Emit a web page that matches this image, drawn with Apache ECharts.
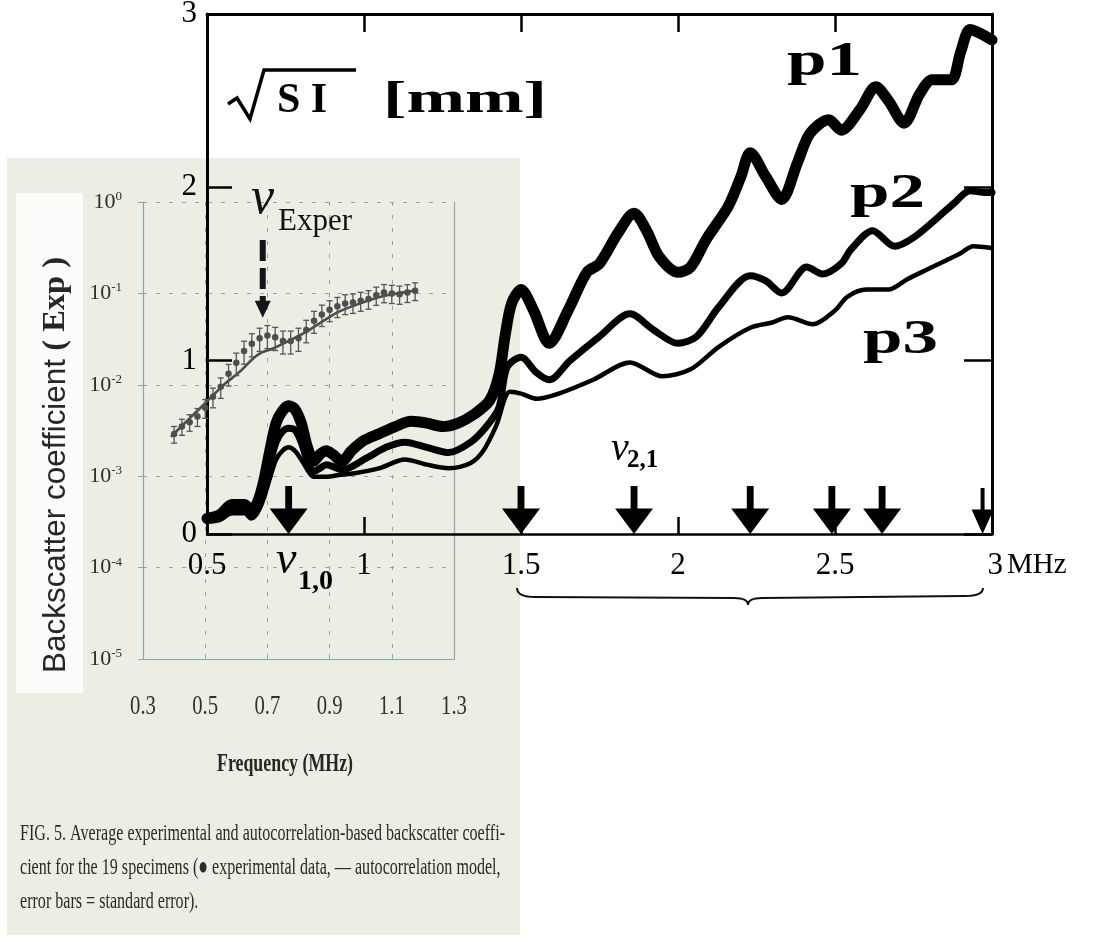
<!DOCTYPE html>
<html><head><meta charset="utf-8">
<script src="https://cdn.jsdelivr.net/npm/echarts@6.0.0/dist/echarts.min.js"></script>
<style>html,body{margin:0;padding:0;background:#fff}#c{width:1096px;height:940px}</style>
</head><body><div id="c"></div>
<script>
// ---------- background (scanned) figure: backscatter coefficient, log scale ----------
const logFreqTicks = [0.3, 0.5, 0.7, 0.9, 1.1, 1.3];
const expFreq  = [0.400,0.425,0.450,0.475,0.500,0.525,0.550,0.575,0.600,0.625,0.650,0.675,0.700,0.725,0.750,0.775,
                  0.800,0.825,0.850,0.875,0.900,0.925,0.950,0.975,1.000,1.025,1.050,1.075,1.100,1.125,1.150,1.175];
const expValue = [0.0029,0.0035,0.0039,0.0045,0.0056,0.0074,0.0095,0.0132,0.0174,0.0234,0.0282,0.0324,0.0347,0.0331,0.0302,0.0302,
                  0.0324,0.0398,0.0501,0.0589,0.0661,0.0724,0.0776,0.0794,0.0832,0.0871,0.0955,0.102,0.100,0.098,0.102,0.107];
const expErr   = [0.0006,0.0007,0.0008,0.0010,0.0013,0.0018,0.0024,0.0035,0.0048,0.0066,0.0080,0.0092,0.0098,0.0094,0.0085,0.0085,
                  0.0092,0.0110,0.0135,0.0155,0.0170,0.0180,0.0190,0.0190,0.0195,0.0200,0.0215,0.0230,0.0225,0.0220,0.0225,0.0235];
const modelFreq  = [0.39,0.45,0.51,0.56,0.61,0.67,0.72,0.78,0.83,0.88,0.93,0.99,1.04,1.10,1.17];
const modelValue = [0.0027,0.0043,0.0068,0.0100,0.0138,0.0214,0.0251,0.0316,0.0389,0.0501,0.0631,0.0759,0.0871,0.0977,0.107];
const expArrow = [0.685, 0.385, 0.054]; // frequency, dashed arrow start value, arrow tip value

// ---------- overlay figure: sqrt(SI) [mm] vs frequency ----------
const p1Freq  = [0.50,0.54,0.58,0.62,0.64,0.66,0.68,0.70,0.72,0.74,0.76,0.78,0.80,0.82,0.84,0.86,0.88,0.90,0.93,0.96,
                 1.00,1.05,1.10,1.15,1.20,1.25,1.30,1.35,1.40,1.43,1.45,1.47,1.50,1.54,1.59,1.65,1.71,1.75,1.81,1.86,
                 1.90,1.94,2.00,2.04,2.09,2.16,2.20,2.23,2.28,2.33,2.38,2.42,2.48,2.52,2.58,2.63,2.67,2.72,2.77,2.81,
                 2.87,2.90,2.93,2.96,3.00];
const p1Value = [0.09,0.11,0.17,0.17,0.13,0.18,0.30,0.48,0.64,0.71,0.74,0.72,0.64,0.50,0.42,0.46,0.48,0.46,0.42,0.48,
                 0.54,0.58,0.62,0.65,0.64,0.62,0.64,0.69,0.77,0.92,1.15,1.33,1.41,1.29,1.10,1.29,1.51,1.56,1.74,1.85,
                 1.75,1.60,1.51,1.54,1.70,1.89,2.06,2.20,2.06,1.93,2.14,2.31,2.39,2.33,2.45,2.58,2.50,2.37,2.54,2.62,
                 2.62,2.78,2.91,2.89,2.85];
const p2Freq  = [0.50,0.54,0.58,0.62,0.64,0.66,0.68,0.70,0.72,0.74,0.76,0.78,0.80,0.82,0.84,0.86,0.88,0.90,0.93,
                 1.01,1.07,1.13,1.20,1.27,1.34,1.39,1.43,1.455,1.50,1.55,1.59,1.656,1.75,1.847,1.92,2.00,2.06,2.13,2.23,
                 2.28,2.33,2.41,2.46,2.52,2.55,2.62,2.69,2.75,2.83,2.88,2.93,2.98,3.00];
const p2Value = [0.08,0.10,0.14,0.14,0.11,0.15,0.26,0.40,0.53,0.59,0.61,0.60,0.53,0.42,0.36,0.38,0.40,0.39,0.37,
                 0.44,0.50,0.53,0.50,0.47,0.53,0.62,0.73,0.96,1.02,0.93,0.89,1.00,1.14,1.27,1.18,1.10,1.14,1.31,1.49,
                 1.46,1.39,1.54,1.50,1.56,1.64,1.75,1.66,1.71,1.83,1.91,1.98,1.97,1.97];
const p3Freq  = [0.50,0.54,0.58,0.62,0.64,0.66,0.68,0.70,0.72,0.74,0.76,0.78,0.80,0.82,0.84,
                 0.88,0.92,0.97,1.05,1.13,1.20,1.27,1.34,1.38,1.42,1.465,1.50,1.55,1.62,1.73,1.847,1.95,2.04,2.13,2.23,
                 2.30,2.35,2.43,2.50,2.54,2.60,2.67,2.73,2.81,2.90,2.94,3.00];
const p3Value = [0.07,0.08,0.12,0.12,0.09,0.12,0.20,0.32,0.43,0.48,0.50,0.48,0.43,0.37,0.33,
                 0.33,0.34,0.35,0.38,0.43,0.40,0.38,0.41,0.48,0.62,0.82,0.81,0.78,0.81,0.89,0.99,0.91,0.95,1.08,1.19,
                 1.22,1.25,1.21,1.29,1.37,1.41,1.41,1.47,1.54,1.62,1.66,1.65];
const arrowFreq = [0.76, 1.50, 1.86, 2.23, 2.49, 2.65, 2.97];

const captionLines = [
  'FIG. 5. Average experimental and autocorrelation-based backscatter coeffi-',
  'cient for the 19 specimens (\u25CF experimental data, \u2014 autocorrelation model,',
  'error bars = standard error).'
];

// ---------------------------------------------------------------------------------
const SERIF = '"Liberation Serif","Times New Roman",serif';
const SANS = '"Liberation Sans",Arial,sans-serif';
const GL = '#89a6b6';
const pairs = (xs, ys) => xs.map((x, i) => [x, ys[i]]);

const chart = echarts.init(document.getElementById('c'));

const ARROW = 'path://M41,0 L59,0 L59,47 L100,47 L50,100 L0,47 L41,47 Z';

const option = {
  animation: false,
  backgroundColor: '#ffffff',
  grid: [
    {left: 143, top: 202, width: 311, height: 457, outerBoundsMode: 'none', containLabel: false},
    {left: 207, top: 14, width: 785, height: 520, outerBoundsMode: 'none', containLabel: false}
  ],
  xAxis: [
    {gridIndex: 0, type: 'value', min: 0.3, max: 1.3,
     axisLine: {show: true, lineStyle: {color: GL, width: 1.2}},
     axisTick: {show: true, customValues: logFreqTicks, length: 5, inside: true, lineStyle: {color: GL}},
     axisLabel: {show: false, customValues: logFreqTicks},
     splitLine: {show: true, lineStyle: {color: GL, width: 1, type: [4, 9]}}},
    {gridIndex: 1, type: 'value', min: 0.5, max: 3, interval: 0.5, position: 'bottom',
     axisLine: {show: true, onZero: false, lineStyle: {color: '#000', width: 2.5}},
     axisTick: {show: true, inside: true, length: 17, lineStyle: {color: '#000', width: 2.5}},
     axisLabel: {show: true, margin: 16, fontFamily: SERIF, fontSize: 31, color: '#000',
       formatter: v => v === 3 ? '{p| }{v|3}{u|MHz}' : String(v),
       rich: {p: {width: 70, fontSize: 31}, v: {fontFamily: SERIF, fontSize: 31, color: '#000'},
              u: {fontFamily: SERIF, fontSize: 29, color: '#000', padding: [0, 0, 0, 4]}}},
     splitLine: {show: false}},
    {gridIndex: 1, type: 'value', min: 0.5, max: 3, interval: 0.5, position: 'top',
     axisLine: {show: true, onZero: false, lineStyle: {color: '#000', width: 3}},
     axisTick: {show: true, inside: true, length: 18, lineStyle: {color: '#000', width: 2.5}},
     axisLabel: {show: false}, splitLine: {show: false}}
  ],
  yAxis: [
    {gridIndex: 0, type: 'log', logBase: 10, min: 0.00001, max: 1, splitNumber: 5,
     axisLine: {show: true, lineStyle: {color: GL, width: 1.2}},
     axisTick: {show: true, length: 5, lineStyle: {color: GL}},
     axisLabel: {show: true, margin: 21,
       formatter: v => '{b|10}{s|' + Math.round(Math.log(v) / Math.LN10) + '}',
       rich: {b: {fontFamily: SERIF, fontSize: 22, color: '#2e2e2e', lineHeight: 24},
              s: {fontFamily: SERIF, fontSize: 13, color: '#2e2e2e', verticalAlign: 'top', lineHeight: 13}}},
     splitLine: {show: true, lineStyle: {color: GL, width: 1, type: [4, 9]}}},
    {gridIndex: 1, type: 'value', min: 0, max: 3, interval: 1, position: 'left',
     axisLine: {show: true, onZero: false, lineStyle: {color: '#000', width: 3}},
     axisTick: {show: true, inside: true, length: 25, lineStyle: {color: '#000', width: 2.5}},
     axisLabel: {show: true, margin: 10, fontFamily: SERIF, fontSize: 31, color: '#000', padding: [12, 0, 0, 0]},
     splitLine: {show: false}},
    {gridIndex: 1, type: 'value', min: 0, max: 3, interval: 1, position: 'right',
     axisLine: {show: true, onZero: false, lineStyle: {color: '#000', width: 3}},
     axisTick: {show: true, inside: true, length: 28, lineStyle: {color: '#000', width: 2.5}},
     axisLabel: {show: false}, splitLine: {show: false}},
    {gridIndex: 0, type: 'log', logBase: 10, min: 0.00001, max: 1, position: 'right',
     axisLine: {show: true, lineStyle: {color: GL, width: 1.2}},
     axisTick: {show: false}, axisLabel: {show: false}, splitLine: {show: false}}
  ],
  series: [
    {name: 'model', type: 'line', xAxisIndex: 0, yAxisIndex: 0, data: pairs(modelFreq, modelValue),
     smooth: 0.4, showSymbol: false, z: 3, lineStyle: {color: '#4d4d4d', width: 2.6, opacity: 1}},
    {name: 'errorbars', type: 'custom', xAxisIndex: 0, yAxisIndex: 0, z: 4,
     encode: {x: 0, y: [1]},
     data: expFreq.map((f, i) => [f, expValue[i], expErr[i]]),
     renderItem: function (params, api) {
       const x = api.value(0), v = api.value(1), e = api.value(2);
       const hi = api.coord([x, v + e]), lo = api.coord([x, v - e]);
       const cw = 3, st = {stroke: '#555555', lineWidth: 1.3};
       return {type: 'group', children: [
         {type: 'line', shape: {x1: hi[0], y1: hi[1], x2: lo[0], y2: lo[1]}, style: st},
         {type: 'line', shape: {x1: hi[0] - cw, y1: hi[1], x2: hi[0] + cw, y2: hi[1]}, style: st},
         {type: 'line', shape: {x1: lo[0] - cw, y1: lo[1], x2: lo[0] + cw, y2: lo[1]}, style: st}
       ]};
     }},
    {name: 'experimental', type: 'scatter', xAxisIndex: 0, yAxisIndex: 0, z: 5,
     data: pairs(expFreq, expValue), symbol: 'circle', symbolSize: 6.5,
     itemStyle: {color: '#4e4e4e', opacity: 1}},
    {name: 'nuExper', type: 'custom', xAxisIndex: 0, yAxisIndex: 0, z: 6,
     encode: {x: 0, y: [1, 2]}, data: [expArrow],
     renderItem: function (params, api) {
       const f = api.value(0);
       const top = api.coord([f, api.value(1)]), tip = api.coord([f, api.value(2)]);
       const hh = 17, hw = 8;
       return {type: 'group', children: [
         {type: 'line', shape: {x1: top[0], y1: top[1], x2: tip[0], y2: tip[1] - hh + 1},
          style: {stroke: '#151515', lineWidth: 6, lineDash: [21, 7]}},
         {type: 'polygon', shape: {points: [[tip[0] - hw, tip[1] - hh], [tip[0] + hw, tip[1] - hh], [tip[0], tip[1]]]},
          style: {fill: '#151515'}}
       ]};
     }},
    {name: 'p1', type: 'line', xAxisIndex: 1, yAxisIndex: 1, data: pairs(p1Freq, p1Value), z: 8,
     smooth: 0.3, showSymbol: false, lineStyle: {color: '#000', width: 11, cap: 'round', join: 'round', opacity: 1}},
    {name: 'p2', type: 'line', xAxisIndex: 1, yAxisIndex: 1, data: pairs(p2Freq, p2Value), z: 8,
     smooth: 0.3, showSymbol: false, lineStyle: {color: '#000', width: 7, cap: 'round', join: 'round', opacity: 1}},
    {name: 'p3', type: 'line', xAxisIndex: 1, yAxisIndex: 1, data: pairs(p3Freq, p3Value), z: 8,
     smooth: 0.3, showSymbol: false, lineStyle: {color: '#000', width: 4.5, cap: 'round', join: 'round', opacity: 1}},
    {name: 'modes', type: 'scatter', xAxisIndex: 1, yAxisIndex: 1, z: 9, clip: false,
     symbol: ARROW, symbolKeepAspect: false,
     data: arrowFreq.map((f, i) => {
       const last = i === arrowFreq.length - 1;
       const size = last ? [22, 46] : [38, 48];
       return {value: [f, 0], symbolSize: size, symbolOffset: [0, -size[1] / 2]};
     }),
     itemStyle: {color: '#000', opacity: 1}}
  ]
};
chart.setOption(option);

// ---------- text / decorations ----------
const ctx = document.createElement('canvas').getContext('2d');
function measure(text, font) { ctx.font = font; return ctx.measureText(text).width; }

const g = [];
// scanned page panel
g.push({type: 'rect', z: -20, shape: {x: 7, y: 158, width: 513, height: 777}, style: {fill: '#eceee3'}});
g.push({type: 'rect', z: -19, shape: {x: 16, y: 193, width: 67, height: 500}, style: {fill: '#fcfcfa'}});

// rotated y label of the scanned figure
const fa = '31px ' + SANS, fb = 'bold 32px ' + SERIF;
const ta = 'Backscatter coefficient', tb = ' ( Exp )';
const yScale = 416 / (measure(ta, fa) + measure(tb, fb));
g.push({type: 'text', z: 20, x: 56, y: 465, rotation: Math.PI / 2, scaleX: yScale,
  style: {text: '{a|' + ta + '}{b|' + tb + '}', align: 'center', verticalAlign: 'middle',
    rich: {a: {fontFamily: SANS, fontSize: 31, fill: '#262626', color: '#262626'},
           b: {fontFamily: SERIF, fontSize: 32, fontWeight: 'bold', fill: '#262626', color: '#262626'}}}});

// x tick labels of the scanned figure (condensed)
const logBottom = chart.convertToPixel({yAxisIndex: 0}, 0.00001);
logFreqTicks.forEach(v => {
  const px = chart.convertToPixel({xAxisIndex: 0}, v);
  g.push({type: 'text', z: 20, x: px, y: logBottom + 48, scaleX: 0.74,
    style: {text: v.toFixed(1), font: '28px ' + SERIF, fill: '#303030', align: 'center', verticalAlign: 'middle'}});
});
// Frequency (MHz)
const ff = 'bold 25px ' + SERIF;
g.push({type: 'text', z: 20, x: 285, y: 765, scaleX: 136 / measure('Frequency (MHz)', ff),
  style: {text: 'Frequency (MHz)', font: ff, fill: '#262626', align: 'center', verticalAlign: 'middle'}});
// caption
const cf = '24px ' + SERIF;
const cScale = 485 / measure(captionLines[0], cf);
captionLines.forEach((t, i) => {
  g.push({type: 'text', z: 20, x: 20, y: 834 + i * 34, scaleX: cScale,
    style: {text: t, font: cf, fill: '#2a2a2a', align: 'left', verticalAlign: 'middle'}});
});
// nu Exper
g.push({type: 'text', z: 20, x: 251, y: 199, style: {text: '\u03BD', font: 'italic 52px ' + SERIF, fill: '#111', align: 'left', verticalAlign: 'middle'}});
g.push({type: 'text', z: 20, x: 278, y: 222, style: {text: 'Exper', font: '31px ' + SERIF, fill: '#111', align: 'left', verticalAlign: 'middle'}});

// sqrt(SI) [mm]
g.push({type: 'polyline', z: 20, shape: {points: [[228, 104], [237, 98], [250, 119], [264, 70], [356, 70]]},
  style: {stroke: '#000', lineWidth: 3.5, fill: null, lineJoin: 'miter'}});
g.push({type: 'text', z: 20, x: 277, y: 101, style: {text: 'S I', font: 'bold 42px ' + SERIF, fill: '#000', align: 'left', verticalAlign: 'middle'}});
const mmF = 'bold 44px ' + SERIF;
g.push({type: 'text', z: 20, x: 383, y: 101, scaleX: 164 / measure('[mm]', mmF),
  style: {text: '[mm]', font: mmF, fill: '#000', align: 'left', verticalAlign: 'middle'}});

// p1 p2 p3
const pF = 'bold 48px ' + SERIF;
[['p1', 787, 63], ['p2', 850, 195], ['p3', 863, 341]].forEach(([t, x, y]) => {
  g.push({type: 'text', z: 20, x: x, y: y, scaleX: 75 / measure(t, pF),
    style: {text: t, font: pF, fill: '#000', align: 'left', verticalAlign: 'middle'}});
});
// nu_{1,0}
g.push({type: 'text', z: 20, x: 276, y: 561, style: {text: '\u03BD', font: 'italic 46px ' + SERIF, fill: '#000', align: 'left', verticalAlign: 'middle'}});
g.push({type: 'text', z: 20, x: 298, y: 582, style: {text: '1,0', font: 'bold 28px ' + SERIF, fill: '#000', align: 'left', verticalAlign: 'middle'}});
// nu_{2,1}
g.push({type: 'text', z: 20, x: 611, y: 449, style: {text: '\u03BD', font: 'italic 40px ' + SERIF, fill: '#000', align: 'left', verticalAlign: 'middle'}});
g.push({type: 'text', z: 20, x: 627, y: 461, style: {text: '2,1', font: 'bold 25px ' + SERIF, fill: '#000', align: 'left', verticalAlign: 'middle'}});

// brace under 1.5 - 3 MHz
const bx1 = chart.convertToPixel({xAxisIndex: 1}, 1.5) - 4;
const bx2 = chart.convertToPixel({xAxisIndex: 1}, 3.0) - 9;
const bm = (bx1 + bx2) / 2 - 2;
const by = 597;
const bst = {stroke: '#111', lineWidth: 2, fill: null};
g.push({type: 'bezierCurve', z: 20, shape: {x1: bx1, y1: by - 9, cpx1: bx1, cpy1: by, x2: bx1 + 18, y2: by}, style: bst});
g.push({type: 'line', z: 20, shape: {x1: bx1 + 18, y1: by, x2: bm - 14, y2: by + 1}, style: bst});
g.push({type: 'bezierCurve', z: 20, shape: {x1: bm - 14, y1: by + 1, cpx1: bm, cpy1: by + 1, x2: bm, y2: by + 8}, style: bst});
g.push({type: 'bezierCurve', z: 20, shape: {x1: bm, y1: by + 8, cpx1: bm, cpy1: by + 1, x2: bm + 14, y2: by + 1}, style: bst});
g.push({type: 'line', z: 20, shape: {x1: bm + 14, y1: by + 1, x2: bx2 - 18, y2: by - 1}, style: bst});
g.push({type: 'bezierCurve', z: 20, shape: {x1: bx2 - 18, y1: by - 1, cpx1: bx2, cpy1: by - 1, x2: bx2, y2: by - 9}, style: bst});

chart.setOption({graphic: {elements: g}});
</script></body></html>
